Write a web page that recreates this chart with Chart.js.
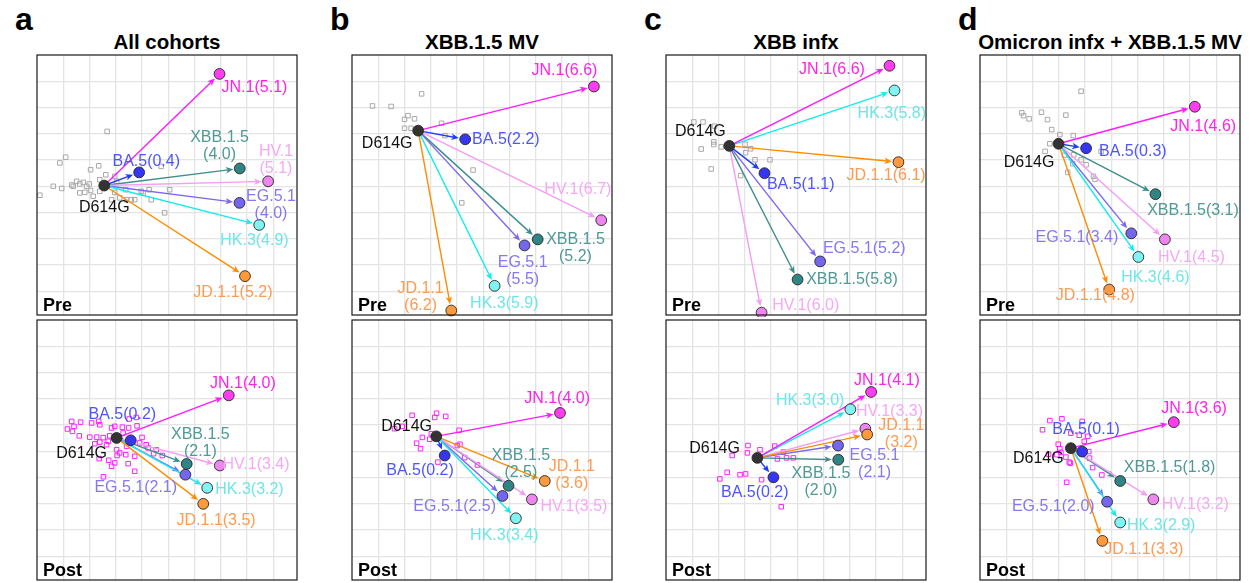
<!DOCTYPE html>
<html lang="en">
<head>
<meta charset="UTF-8">
<title>Antigenic maps</title>
<style>
  body { margin: 0; background: #fff; font-family: "Liberation Sans", Arial, sans-serif; }
  #fig { position: relative; width: 1252px; height: 583px; overflow: hidden; }
  .letter { position: absolute; font-weight: bold; font-size: 32px; line-height: 1; color: #000; }
  .title { position: absolute; width: 320px; text-align: center; font-weight: bold; font-size: 20.5px; line-height: 1; white-space: nowrap; color: #000; }
  canvas { position: absolute; }
</style>
</head>
<body>
<div id="fig"></div>
<script src="https://cdn.jsdelivr.net/npm/chart.js"></script>
<script>
// antigen order used by every array below
const antigens = ['D614G', 'BA.5', 'XBB.1.5', 'EG.5.1', 'HV.1', 'HK.3', 'JD.1.1', 'JN.1'];
const gridTicks = [1, 2, 3, 4, 5, 6, 7, 8, 9];
const panelLetters = ['a', 'b', 'c', 'd'];
const panelTitles = ['All cohorts', 'XBB.1.5 MV', 'XBB infx', 'Omicron infx + XBB.1.5 MV'];

// fold drop vs D614G
const aPreFold  = [null, 0.4, 4.0, 4.0, 5.1, 4.9, 5.2, 5.1];
const aPostFold = [null, 0.2, 2.1, 2.1, 3.4, 3.2, 3.5, 4.0];
const bPreFold  = [null, 2.2, 5.2, 5.5, 6.7, 5.9, 6.2, 6.6];
const bPostFold = [null, 0.2, 2.5, 2.5, 3.5, 3.4, 3.6, 4.0];
const cPreFold  = [null, 1.1, 5.8, 5.2, 6.0, 5.8, 6.1, 6.6];
const cPostFold = [null, 0.2, 2.0, 2.1, 3.3, 3.0, 3.2, 4.1];
const dPreFold  = [null, 0.3, 3.1, 3.4, 4.5, 4.6, 4.8, 4.6];
const dPostFold = [null, 0.1, 1.8, 2.0, 3.2, 2.9, 3.3, 3.6];

// antigen map coordinates (antigenic units, y grows downward)
const aPreAg  = [[2.56,4.97],[3.89,4.47],[7.72,4.32],[7.71,5.63],[8.80,4.81],[8.46,6.47],[7.92,8.42],[6.95,0.72]];
const aPostAg = [[3.03,4.49],[3.57,4.58],[5.70,5.48],[5.65,5.89],[6.96,5.54],[6.48,6.39],[6.33,7.00],[7.30,2.87]];
const bPreAg  = [[2.52,2.88],[4.31,3.21],[7.07,7.02],[6.57,7.25],[9.49,6.29],[5.43,8.79],[3.78,9.73],[9.21,1.20]];
const bPostAg = [[3.21,4.43],[3.53,5.16],[5.96,6.31],[5.73,6.70],[6.85,6.83],[6.24,7.55],[7.34,6.13],[7.92,3.54]];
const cPreAg  = [[2.41,3.46],[3.75,4.50],[5.01,8.55],[5.87,7.86],[3.64,9.81],[8.70,1.35],[8.85,4.08],[8.51,0.41]];
const cPostAg = [[3.48,5.25],[4.09,5.99],[6.56,5.32],[6.55,4.78],[7.59,4.14],[7.02,3.40],[7.66,4.36],[7.81,2.74]];
const dPreAg  = [[2.99,3.38],[4.04,3.55],[6.68,5.30],[5.76,6.79],[7.04,7.02],[6.03,7.69],[4.92,8.93],[8.18,1.97]];
const dPostAg = [[3.46,4.88],[3.89,5.01],[5.34,6.13],[4.84,6.92],[6.60,6.83],[5.34,7.71],[4.66,8.41],[7.38,3.89]];

// sera coordinates
const aPreSera = [[2.67,2.91],[0.87,4.11],[1.09,3.89],[2.35,4.22],[2.04,4.37],[2.62,4.56],[2.39,4.75],[1.51,4.81],[1.76,4.85],[1.63,4.91],[1.32,4.95],[1.38,5.00],[0.62,5.00],[0.94,5.08],[1.89,5.00],[2.04,5.16],[1.99,4.91],[2.96,4.62],[3.03,4.81],[1.63,5.25],[1.82,5.23],[2.39,5.19],[0.11,5.34],[2.96,5.23],[3.41,5.51],[3.59,5.51],[3.72,5.51],[3.97,5.19],[4.27,5.13],[4.35,5.51],[5.05,5.13],[4.86,6.01],[4.73,4.24],[4.04,5.25],[2.84,5.51],[3.15,5.44],[3.38,5.13],[2.14,5.38]];
const aPostSera = [[1.32,3.86],[1.66,3.89],[2.08,3.92],[2.35,3.86],[2.39,3.99],[1.16,4.15],[1.41,4.05],[1.35,4.24],[1.61,4.41],[2.01,4.46],[2.27,4.46],[2.52,4.48],[2.39,4.65],[2.20,4.71],[2.84,4.11],[2.96,4.05],[3.25,4.08],[3.51,3.77],[3.78,3.71],[3.81,4.03],[3.49,4.11],[3.28,4.30],[2.71,4.62],[2.77,4.41],[2.65,4.75],[3.03,4.94],[3.15,5.06],[3.41,4.81],[3.38,5.13],[3.47,5.47],[3.72,5.19],[3.72,5.76],[3.91,4.68],[4.00,4.47],[4.16,4.75],[4.23,4.87],[4.44,5.09],[4.77,5.16],[4.54,4.94],[3.05,5.16],[2.37,5.28],[2.73,5.34],[2.53,5.97],[2.96,5.44],[2.84,5.57]];
const bPreSera = [[2.65,1.48],[0.78,1.94],[1.49,1.96],[2.13,2.31],[2.38,2.43],[2.00,2.45],[2.00,2.79],[2.25,2.79],[3.41,2.60],[3.54,3.07],[4.61,4.38],[4.18,5.63]];
const bPostSera = [[2.29,3.63],[3.22,3.55],[3.15,3.71],[3.57,3.67],[1.91,4.05],[1.62,4.14],[2.68,4.47],[2.96,4.54],[3.02,4.33],[2.46,4.69],[2.61,4.90],[4.08,4.20],[4.11,4.73],[4.01,4.78],[4.29,5.24],[4.78,5.52],[3.27,5.41]];
const cPreSera = [[1.06,2.55],[1.41,2.55],[1.85,2.71],[1.34,3.58],[1.82,3.31],[1.82,3.41],[2.10,3.50],[3.01,3.40],[3.22,3.57],[3.03,3.72],[3.39,3.99],[3.96,3.99],[1.72,4.34],[2.84,4.59]];
const cPostSera = [[3.12,4.78],[3.10,5.06],[3.58,4.94],[4.14,4.80],[4.47,5.03],[2.52,5.16],[4.24,5.29],[4.59,5.25],[4.85,5.25],[2.33,5.80],[2.05,6.05],[2.82,5.89],[3.03,5.86],[3.64,6.08],[4.39,7.11]];
const dPreSera = [[3.85,1.38],[1.59,2.20],[1.66,2.31],[1.87,2.43],[2.34,2.18],[2.57,2.46],[3.27,2.29],[2.73,2.84],[3.04,3.03],[3.55,3.07],[2.66,3.38],[2.48,3.67],[3.21,3.82],[3.57,3.80],[3.85,3.99],[4.04,4.18],[3.53,4.14],[3.34,4.47],[4.32,4.62],[4.38,4.73],[4.61,3.67]];
const dPostSera = [[2.38,4.18],[2.66,3.83],[3.12,3.76],[3.89,3.86],[3.46,4.31],[3.78,4.39],[4.10,4.43],[3.97,4.62],[2.98,4.73],[3.04,4.90],[2.61,5.11],[2.93,5.13],[3.08,5.04],[3.27,5.22],[3.85,5.04],[4.14,5.01],[4.17,5.26],[3.44,5.45],[4.29,5.62],[4.64,5.90],[3.30,6.18],[3.40,5.41]];

// label placement: [centre x, centre y of first line, number of lines]
const aPreLab  = [[2.56,5.82,1],[4.16,4.05,1],[6.95,3.14,2],[8.91,5.38,2],[9.10,3.67,2],[8.28,7.05,1],[7.46,9.05,1],[8.28,1.23,1]];
const aPostLab = [[1.70,5.09,1],[3.25,3.61,1],[6.22,4.37,2],[3.76,6.39,1],[8.34,5.51,1],[8.09,6.46,1],[6.82,7.62,1],[7.84,2.43,1]];
const bPreLab  = [[1.34,3.36,1],[5.86,3.24,1],[8.51,7.02,2],[6.50,7.89,2],[8.60,5.12,1],[5.80,9.48,1],[2.61,8.90,2],[8.09,0.59,1]];
const bPostLab = [[2.08,4.05,1],[2.59,5.75,1],[6.43,5.16,2],[3.91,7.11,1],[8.45,7.11,1],[5.80,8.22,1],[8.37,5.58,2],[7.81,2.99,1]];
const cPreLab  = [[1.31,2.93,1],[5.13,4.93,1],[7.08,8.57,1],[7.55,7.39,1],[5.32,9.55,1],[8.60,2.23,1],[8.38,4.61,1],[6.32,0.57,1]];
const cPostLab = [[1.85,4.90,1],[3.38,6.56,1],[5.90,5.86,2],[7.94,5.16,2],[8.51,3.48,1],[5.49,3.06,1],[8.96,4.01,2],[8.41,2.29,1]];
const dPreLab  = [[1.87,4.08,1],[5.82,3.67,1],[8.11,5.94,1],[3.69,6.94,1],[8.05,7.71,1],[6.68,8.47,1],[4.39,9.18,1],[8.50,2.71,1]];
const dPostLab = [[2.22,5.26,1],[4.04,4.18,1],[7.22,5.61,1],[2.79,7.11,1],[8.20,7.02,1],[6.90,7.81,1],[6.24,8.76,1],[8.15,3.38,1]];

const pointFill  = ['#333333', '#3535f2', '#2f8583', '#7466ee', '#ef86ef', '#80f4f4', '#ff9a3c', '#ff3cf2'];
const arrowColor = ['#333333', '#1c3cff', '#3e8e8c', '#7a68f0', '#f59cf5', '#12ecec', '#ff8c00', '#ff1aff'];
const labelColor = ['#111111', '#4d55ff', '#4f9997', '#8578f0', '#f6a8f6', '#6fe6e6', '#ff9a50', '#ff22e8'];

const panelLeft = [37, 352, 666, 980];
const rowTop = [55, 320];
const BOX = 260;
const PAD = 2;

const mapPlugin = {
    id: 'mapPlugin',
    afterDatasetDraw(chart, args) {
        // arrows go on top of sera (dataset 1), under the antigen dots
        if (args.index !== 1) return;
        const cfg = chart.options.plugins.mapPlugin;
        const xs = chart.scales.x, ys = chart.scales.y;
        const ctx = chart.ctx;
        const x0 = xs.getPixelForValue(cfg.ag[0][0]);
        const y0 = ys.getPixelForValue(cfg.ag[0][1]);
        ctx.save();
        for (let i = 1; i < cfg.ag.length; i++) {
            const x1 = xs.getPixelForValue(cfg.ag[i][0]);
            const y1 = ys.getPixelForValue(cfg.ag[i][1]);
            const dx = x1 - x0, dy = y1 - y0;
            const len = Math.hypot(dx, dy);
            if (len < 8) continue;
            const ux = dx / len, uy = dy / len;
            const tipX = x1 - ux * 6.5, tipY = y1 - uy * 6.5;
            const head = 7.5, half = 3.2;
            ctx.strokeStyle = arrowColor[i];
            ctx.fillStyle = arrowColor[i];
            ctx.lineWidth = 1.4;
            ctx.beginPath();
            ctx.moveTo(x0, y0);
            ctx.lineTo(tipX - ux * 5, tipY - uy * 5);
            ctx.stroke();
            ctx.beginPath();
            ctx.moveTo(tipX, tipY);
            ctx.lineTo(tipX - ux * head - uy * half, tipY - uy * head + ux * half);
            ctx.lineTo(tipX - ux * 5.5, tipY - uy * 5.5);
            ctx.lineTo(tipX - ux * head + uy * half, tipY - uy * head - ux * half);
            ctx.closePath();
            ctx.fill();
        }
        ctx.restore();
    },
    afterDatasetsDraw(chart) {
        const cfg = chart.options.plugins.mapPlugin;
        const xs = chart.scales.x, ys = chart.scales.y;
        const ctx = chart.ctx;
        const area = chart.chartArea;
        ctx.save();
        ctx.beginPath();
        ctx.rect(area.left, area.top, area.right - area.left, area.bottom - area.top);
        ctx.clip();
        ctx.font = '16px "Liberation Sans", Arial, sans-serif';
        ctx.textAlign = 'center';
        ctx.textBaseline = 'middle';
        cfg.lab.forEach((l, i) => {
            const cx = xs.getPixelForValue(l[0]);
            const cy = ys.getPixelForValue(l[1]);
            ctx.fillStyle = labelColor[i];
            if (i === 0) {
                ctx.fillText(antigens[0], cx, cy);
                return;
            }
            const f = '(' + cfg.fold[i].toFixed(1) + ')';
            if (l[2] === 2) {
                ctx.fillText(antigens[i], cx, cy);
                ctx.fillText(f, cx, cy + 17);
            } else {
                ctx.fillText(antigens[i] + f, cx, cy);
            }
        });
        ctx.restore();
    },
    afterDraw(chart) {
        const cfg = chart.options.plugins.mapPlugin;
        const ctx = chart.ctx;
        const a = chart.chartArea;
        ctx.save();
        ctx.strokeStyle = '#1a1a1a';
        ctx.lineWidth = 1.2;
        ctx.strokeRect(a.left, a.top, a.right - a.left, a.bottom - a.top);
        ctx.fillStyle = '#000';
        ctx.font = 'bold 18px "Liberation Sans", Arial, sans-serif';
        ctx.textAlign = 'left';
        ctx.textBaseline = 'alphabetic';
        ctx.fillText(cfg.tag, a.left + 6, a.bottom - 4);
        ctx.restore();
    }
};

function axis(reverse) {
    return {
        type: 'linear',
        min: 0,
        max: 9.9,
        reverse: reverse,
        ticks: { display: false },
        grid: { color: '#e4e4e4', lineWidth: 1.3, drawTicks: false },
        border: { display: false },
        afterBuildTicks: ax => { ax.ticks = gridTicks.map(v => ({ value: v })); }
    };
}

function makePanel(left, top, ag, fold, sera, lab, seraColor, tag) {
    const canvas = document.createElement('canvas');
    canvas.width = BOX + 2 * PAD;
    canvas.height = BOX + 2 * PAD;
    canvas.style.left = (left - PAD) + 'px';
    canvas.style.top = (top - PAD) + 'px';
    document.getElementById('fig').appendChild(canvas);
    new Chart(canvas.getContext('2d'), {
        type: 'scatter',
        data: {
            datasets: [
                {
                    data: ag.map(p => ({ x: p[0], y: p[1] })),
                    backgroundColor: pointFill,
                    borderColor: '#262626',
                    borderWidth: 0.9,
                    pointRadius: 5.4,
                    clip: false
                },
                {
                    data: sera.map(p => ({ x: p[0], y: p[1] })),
                    pointStyle: 'rect',
                    pointRadius: 3.2,
                    backgroundColor: 'rgba(0,0,0,0)',
                    borderColor: seraColor,
                    borderWidth: 1,
                    clip: false
                }
            ]
        },
        options: {
            responsive: false,
            animation: false,
            events: [],
            layout: { padding: PAD, autoPadding: false },
            plugins: {
                legend: { display: false },
                tooltip: { enabled: false },
                mapPlugin: { ag: ag, fold: fold, lab: lab, tag: tag }
            },
            scales: { x: axis(false), y: axis(true) }
        },
        plugins: [mapPlugin]
    });
}

const fig = document.getElementById('fig');
panelLetters.forEach((l, i) => {
    const d = document.createElement('div');
    d.className = 'letter';
    d.textContent = l;
    d.style.left = (panelLeft[i] - 22) + 'px';
    d.style.top = '3px';
    fig.appendChild(d);
    const t = document.createElement('div');
    t.className = 'title';
    t.textContent = panelTitles[i];
    t.style.left = (panelLeft[i] + BOX / 2 - 160) + 'px';
    t.style.top = '32px';
    fig.appendChild(t);
});

const grey = '#a9a9a9', pink = '#ff22ff';
makePanel(panelLeft[0], rowTop[0], aPreAg, aPreFold, aPreSera, aPreLab, grey, 'Pre');
makePanel(panelLeft[0], rowTop[1], aPostAg, aPostFold, aPostSera, aPostLab, pink, 'Post');
makePanel(panelLeft[1], rowTop[0], bPreAg, bPreFold, bPreSera, bPreLab, grey, 'Pre');
makePanel(panelLeft[1], rowTop[1], bPostAg, bPostFold, bPostSera, bPostLab, pink, 'Post');
makePanel(panelLeft[2], rowTop[0], cPreAg, cPreFold, cPreSera, cPreLab, grey, 'Pre');
makePanel(panelLeft[2], rowTop[1], cPostAg, cPostFold, cPostSera, cPostLab, pink, 'Post');
makePanel(panelLeft[3], rowTop[0], dPreAg, dPreFold, dPreSera, dPreLab, grey, 'Pre');
makePanel(panelLeft[3], rowTop[1], dPostAg, dPostFold, dPostSera, dPostLab, pink, 'Post');
</script>
</body>
</html>
